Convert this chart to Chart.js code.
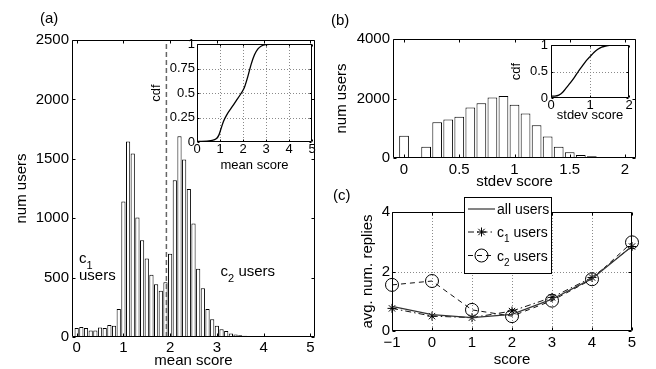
<!DOCTYPE html>
<html>
<head>
<meta charset="utf-8">
<script src="https://cdn.jsdelivr.net/npm/chart.js@4.4.1/dist/chart.umd.min.js"></script>
<style>
  html, body { margin: 0; padding: 0; background: #fff; overflow: hidden; width: 656px; height: 369px; }
  #wrap { position: relative; width: 656px; height: 369px; }
  canvas { position: absolute; left: 0; top: 0; }
  .lbl { position: absolute; font: 15px 'Liberation Sans', Arial, sans-serif; line-height: 17px; color: #000; }
</style>
</head>
<body>
<div id="wrap">
  <canvas id="cA" width="656" height="400"></canvas>
  <canvas id="cAi" width="656" height="400"></canvas>
  <canvas id="cB" width="656" height="400"></canvas>
  <canvas id="cBi" width="656" height="400"></canvas>
  <canvas id="cC" width="656" height="400"></canvas>
  <div class="lbl" style="left:40px;top:9px">(a)</div>
  <div class="lbl" style="left:331px;top:11px">(b)</div>
  <div class="lbl" style="left:333px;top:186px">(c)</div>
</div>
<script>
// ---- data ----
// (a) histogram of mean score
const meanBins = [0, 0.1, 0.2, 0.3, 0.4, 0.5, 0.6, 0.7, 0.8, 0.9,
  1.0, 1.1, 1.2, 1.3, 1.4, 1.5, 1.6, 1.7, 1.8, 1.9,
  2.0, 2.1, 2.2, 2.3, 2.4, 2.5, 2.6, 2.7, 2.8, 2.9,
  3.0, 3.1, 3.2, 3.3, 3.4, 3.5, 3.6, 3.7, 3.8, 3.9,
  4.0, 4.1, 4.2, 4.3, 4.4, 4.5, 4.6, 4.7, 4.8, 4.9, 5.0];
const meanCounts = [75, 85, 75, 55, 55, 80, 75, 100, 95, 235,
  1140, 1645, 1545, 1005, 815, 660, 525, 445, 390, 460,
  700, 1320, 1690, 1495, 1245, 955, 575, 410, 235, 150,
  95, 65, 50, 30, 20, 15, 10, 8, 6, 5,
  4, 3, 2, 2, 1, 1, 1, 0, 0, 0, 0];
const splitScore = 1.92;
// (a) inset cdf of mean score
const cdfMeanX = [0, 0.6, 0.85, 0.95, 1.05, 1.15, 1.3, 1.5, 1.7, 1.9, 2.05, 2.2, 2.35, 2.5, 2.65, 2.8, 3.0, 3.3, 5];
const cdfMeanY = [0.005, 0.015, 0.035, 0.07, 0.14, 0.21, 0.28, 0.35, 0.42, 0.49, 0.55, 0.66, 0.79, 0.89, 0.95, 0.98, 0.995, 1, 1];
// (b) histogram of stdev score
const stdBins = [0, 0.1, 0.2, 0.3, 0.4, 0.5, 0.6, 0.7, 0.8, 0.9, 1.0,
  1.1, 1.2, 1.3, 1.4, 1.5, 1.6, 1.7, 1.8, 1.9, 2.0];
const stdCounts = [750, 20, 380, 1200, 1290, 1390, 1700, 1840, 2030, 2080, 1790,
  1500, 1100, 720, 380, 190, 100, 55, 20, 10, 0];
// (b) inset cdf of stdev score
const cdfStdX = [0, 0.1, 0.2, 0.3, 0.4, 0.5, 0.6, 0.7, 0.8, 0.9, 1.0, 1.1, 1.2, 1.3, 1.4, 1.5, 1.6, 2];
const cdfStdY = [0.035, 0.037, 0.055, 0.11, 0.2, 0.29, 0.39, 0.5, 0.6, 0.7, 0.78, 0.86, 0.92, 0.96, 0.98, 0.995, 1, 1];
// (c) avg. num. replies by score
const scores = [-1, 0, 1, 2, 3, 4, 5];
const allUsers = [0.83, 0.55, 0.45, 0.56, 1.07, 1.76, 2.85];
const c1Users = [0.76, 0.5, 0.45, 0.67, 1.13, 1.8, 2.84];
const c2Users = [1.55, 1.68, 0.71, 0.5, 1.02, 1.74, 2.98];

// tick values
const ticksAx = [0, 1, 2, 3, 4, 5], ticksAy = [0, 500, 1000, 1500, 2000, 2500];
const ticksAiX = [0, 1, 2, 3, 4, 5], ticksAiY = [0, 0.25, 0.5, 0.75, 1];
const ticksBx = [0, 0.5, 1, 1.5, 2], ticksBy = [0, 2000, 4000];
const ticksBiX = [0, 1, 2], ticksBiY = [0, 0.5, 1];
const ticksCx = [-1, 0, 1, 2, 3, 4, 5], ticksCy = [0, 2, 4];

const FONT = "'Liberation Sans', Arial, Helvetica, sans-serif";
Chart.defaults.font.family = FONT;
Chart.defaults.color = '#000';

const W = 656, H = 400;
// plot boxes (pixels)
const A = { left: 72, top: 40, right: 315, bottom: 337 };
const AI = { left: 197, top: 44, right: 312, bottom: 142 };
const B = { left: 393, top: 39, right: 636, bottom: 158 };
const BI = { left: 551, top: 45, right: 629, bottom: 98 };
const C = { left: 392, top: 212, right: 632, bottom: 331 };

function frame(box, yw, xh) {
  return { padding: { left: box.left - yw, top: box.top, right: W - box.right, bottom: H - box.bottom - xh } };
}

function fmt(v) { return v < 0 ? '\u2212' + Math.abs(v) : String(v); }

function linScale(min, max, ticks, size, pad, title, fixed, horizontal) {
  return {
    type: 'linear', min: min, max: max, offset: false,
    afterBuildTicks: s => { s.ticks = ticks.map(v => ({ value: v })); },
    afterFit: s => { if (horizontal) s.height = fixed; else s.width = fixed; },
    grid: { display: false, drawTicks: false, offset: false },
    border: { display: false },
    ticks: { font: { size: size }, padding: pad, color: '#000', autoSkip: false, maxRotation: 0, minRotation: 0, callback: v => fmt(v) },
    title: { display: !!title, text: title, font: { size: size }, padding: 0, color: '#000' }
  };
}

// matlab style box, inward ticks, dotted grid
const matAxes = {
  id: 'matAxes',
  beforeDatasetsDraw(chart, args, o) {
    const { ctx, chartArea: a } = chart;
    const x = chart.scales.x, y = chart.scales.y;
    ctx.save();
    if (o.fill) {
      ctx.fillStyle = '#fff';
      ctx.fillRect(a.left, a.top, a.right - a.left, a.bottom - a.top);
    }
    if (o.grid) {
      ctx.strokeStyle = '#8a8a8a';
      ctx.lineWidth = 1;
      ctx.setLineDash([1, 2]);
      ctx.beginPath();
      x.ticks.forEach(t => {
        const p = Math.round(x.getPixelForValue(t.value)) + 0.5;
        if (p > a.left + 2 && p < a.right - 2) { ctx.moveTo(p, a.top); ctx.lineTo(p, a.bottom); }
      });
      y.ticks.forEach(t => {
        const p = Math.round(y.getPixelForValue(t.value)) + 0.5;
        if (p > a.top + 2 && p < a.bottom - 2) { ctx.moveTo(a.left, p); ctx.lineTo(a.right, p); }
      });
      ctx.stroke();
    }
    ctx.restore();
  },
  afterDatasetsDraw(chart, args, o) {
    const { ctx, chartArea: a } = chart;
    const x = chart.scales.x, y = chart.scales.y;
    const L = Math.round(a.left) + 0.5, R = Math.round(a.right) - 0.5;
    const T = Math.round(a.top) + 0.5, Bt = Math.round(a.bottom) - 0.5;
    const tl = o.tick || 3;
    ctx.save();
    ctx.strokeStyle = '#000';
    ctx.lineWidth = 1;
    ctx.setLineDash([]);
    ctx.beginPath();
    ctx.rect(L, T, R - L, Bt - T);
    x.ticks.forEach(t => {
      const p = Math.round(x.getPixelForValue(t.value)) + 0.5;
      ctx.moveTo(p, Bt); ctx.lineTo(p, Bt - tl);
      ctx.moveTo(p, T); ctx.lineTo(p, T + tl);
    });
    y.ticks.forEach(t => {
      const p = Math.round(y.getPixelForValue(t.value)) + 0.5;
      ctx.moveTo(L, p); ctx.lineTo(L + tl, p);
      ctx.moveTo(R, p); ctx.lineTo(R - tl, p);
    });
    ctx.stroke();
    ctx.restore();
  }
};

// text run with subscripts: parts = [[text, isSub], ...]
function runText(ctx, x, y, parts, size, subSize) {
  parts.forEach(([s, sub]) => {
    ctx.font = (sub ? subSize : size) + 'px ' + FONT;
    ctx.fillText(s, x, sub ? y + Math.round(size * 0.38) : y);
    x += ctx.measureText(s).width;
  });
}

const notesA = {
  id: 'notesA',
  afterDraw(chart) {
    const { ctx } = chart;
    const x = chart.scales.x, y = chart.scales.y;
    ctx.save();
    ctx.fillStyle = '#000';
    ctx.textBaseline = 'alphabetic';
    ctx.textAlign = 'left';
    const x1 = x.getPixelForValue(0.05);
    runText(ctx, x1, y.getPixelForValue(620), [['c', false], ['1', true]], 15, 11);
    runText(ctx, x1, y.getPixelForValue(480), [['users', false]], 15, 11);
    runText(ctx, x.getPixelForValue(3.08), y.getPixelForValue(515), [['c', false], ['2', true], [' users', false]], 15, 11);
    ctx.restore();
  }
};

const baseOpts = { responsive: false, animation: false, devicePixelRatio: 1 };
const noPlug = { legend: { display: false }, tooltip: { enabled: false } };

// (a) main histogram
new Chart(document.getElementById('cA'), {
  type: 'bar',
  data: {
    datasets: [
      { type: 'line', data: [{ x: splitScore, y: 0 }, { x: splitScore, y: 2500 }],
        borderColor: '#666', borderWidth: 1.5, borderDash: [5, 3], pointRadius: 0, order: 0 },
      { data: meanBins.map((b, i) => ({ x: b, y: meanCounts[i] })),
        backgroundColor: '#fff', borderColor: '#000', borderWidth: 1,
        barPercentage: 0.9, categoryPercentage: 1, order: 1 }
    ]
  },
  options: Object.assign({}, baseOpts, {
    layout: frame(A, 59, 33),
    plugins: Object.assign({}, noPlug, { matAxes: { tick: 3 } }),
    scales: {
      x: linScale(-0.1, 5.1, ticksAx, 15, 2, 'mean score', 33, true),
      y: linScale(0, 2500, ticksAy, 15, 3, 'num users', 59, false)
    }
  }),
  plugins: [matAxes, notesA]
});

// (a) inset cdf
new Chart(document.getElementById('cAi'), {
  type: 'line',
  data: { datasets: [{ data: cdfMeanX.map((v, i) => ({ x: v, y: cdfMeanY[i] })),
    borderColor: '#000', borderWidth: 1.3, pointRadius: 0, cubicInterpolationMode: 'monotone' }] },
  options: Object.assign({}, baseOpts, {
    layout: frame(AI, 48, 31),
    plugins: Object.assign({}, noPlug, { matAxes: { tick: 2, grid: true, fill: true } }),
    scales: {
      x: linScale(0, 5, ticksAiX, 13, 0, 'mean score', 31, true),
      y: linScale(0, 1, ticksAiY, 13, 2, 'cdf', 48, false)
    }
  }),
  plugins: [matAxes]
});

// (b) main histogram
new Chart(document.getElementById('cB'), {
  type: 'bar',
  data: { datasets: [{ data: stdBins.map((b, i) => ({ x: b, y: stdCounts[i] })),
    backgroundColor: '#fff', borderColor: '#000', borderWidth: 1,
    barPercentage: 0.88, categoryPercentage: 1 }] },
  options: Object.assign({}, baseOpts, {
    layout: frame(B, 60, 33),
    plugins: Object.assign({}, noPlug, { matAxes: { tick: 3 } }),
    scales: {
      x: linScale(-0.1, 2.1, ticksBx, 15, 3, 'stdev score', 33, true),
      y: linScale(0, 4000, ticksBy, 15, 3, 'num users', 60, false)
    }
  }),
  plugins: [matAxes]
});

// (b) inset cdf
new Chart(document.getElementById('cBi'), {
  type: 'line',
  data: { datasets: [{ data: cdfStdX.map((v, i) => ({ x: v, y: cdfStdY[i] })),
    borderColor: '#000', borderWidth: 1.3, pointRadius: 0, cubicInterpolationMode: 'monotone' }] },
  options: Object.assign({}, baseOpts, {
    layout: frame(BI, 42, 25),
    plugins: Object.assign({}, noPlug, { matAxes: { tick: 2, grid: true, fill: true } }),
    scales: {
      x: linScale(0, 2, ticksBiX, 13, 0, 'stdev score', 25, true),
      y: linScale(0, 1, ticksBiY, 13, 3, 'cdf', 42, false)
    }
  }),
  plugins: [matAxes]
});

// (c) legend
const legendC = {
  id: 'legendC',
  afterDraw(chart) {
    const { ctx } = chart;
    const ds = chart.data.datasets;
    const box = { left: 464.5, top: 197.5, right: 551.5, bottom: 273.5 };
    const rows = [
      { y: 209, parts: [['all users', false]] },
      { y: 232, parts: [['c', false], ['1', true], [' users', false]] },
      { y: 255.5, parts: [['c', false], ['2', true], [' users', false]] }
    ];
    ctx.save();
    ctx.fillStyle = '#fff';
    ctx.fillRect(box.left, box.top, box.right - box.left, box.bottom - box.top);
    ctx.strokeStyle = '#000';
    ctx.lineWidth = 1;
    ctx.strokeRect(box.left, box.top, box.right - box.left, box.bottom - box.top);
    rows.forEach((r, i) => {
      const d = ds[i];
      ctx.strokeStyle = d.borderColor;
      ctx.lineWidth = d.borderWidth;
      ctx.setLineDash(d.borderDash || []);
      ctx.beginPath();
      ctx.moveTo(468, r.y);
      ctx.lineTo(495, r.y);
      ctx.stroke();
      ctx.setLineDash([]);
      if (d.pointRadius > 0) {
        ctx.strokeStyle = d.pointBorderColor || d.borderColor;
        ctx.fillStyle = 'rgba(0,0,0,0)';
        ctx.lineWidth = 1;
        Chart.helpers.drawPoint(ctx, { pointStyle: d.pointStyle, radius: d.pointRadius, rotation: 0, borderWidth: 1 }, 481.5, r.y);
      }
      ctx.fillStyle = '#000';
      ctx.textBaseline = 'alphabetic';
      ctx.textAlign = 'left';
      runText(ctx, 497, r.y + 5, r.parts, 14, 10);
    });
    ctx.restore();
  }
};

// (c) avg num replies
new Chart(document.getElementById('cC'), {
  type: 'line',
  data: {
    datasets: [
      { data: scores.map((s, i) => ({ x: s, y: allUsers[i] })), borderColor: '#333', borderWidth: 1.2,
        pointRadius: 0, clip: false },
      { data: scores.map((s, i) => ({ x: s, y: c1Users[i] })), borderColor: '#111', borderWidth: 1,
        borderDash: [6, 3, 1.5, 3], pointStyle: 'star', pointRadius: 4.5, pointBorderColor: '#000',
        pointBackgroundColor: 'rgba(0,0,0,0)', pointBorderWidth: 1, clip: false },
      { data: scores.map((s, i) => ({ x: s, y: c2Users[i] })), borderColor: '#111', borderWidth: 1,
        borderDash: [5, 4], pointStyle: 'circle', pointRadius: 6.5, pointBorderColor: '#000',
        pointBackgroundColor: 'rgba(0,0,0,0)', pointBorderWidth: 1, clip: false }
    ]
  },
  options: Object.assign({}, baseOpts, {
    layout: frame(C, 33, 38),
    plugins: Object.assign({}, noPlug, { matAxes: { tick: 3, grid: true } }),
    scales: {
      x: linScale(-1, 5, ticksCx, 15, 3, 'score', 38, true),
      y: linScale(0, 4, ticksCy, 15, 2, 'avg. num. replies', 33, false)
    }
  }),
  plugins: [matAxes, legendC]
});
</script>
</body>
</html>
